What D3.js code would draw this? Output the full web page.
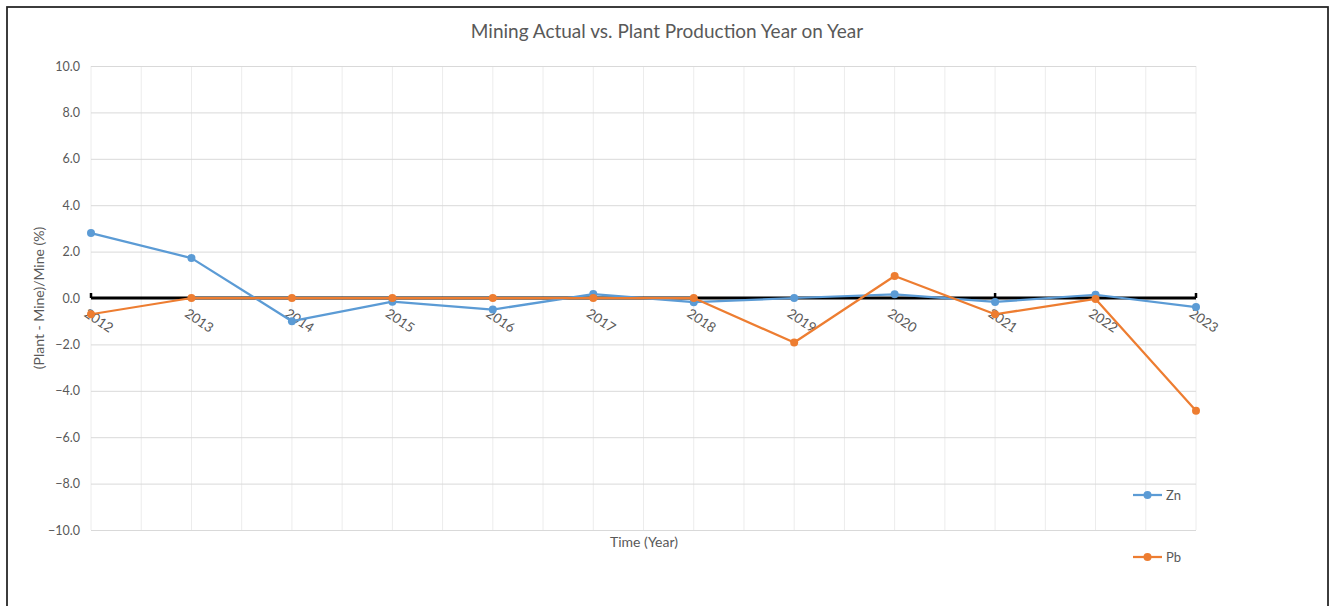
<!DOCTYPE html>
<html>
<head>
<meta charset="utf-8">
<script src="https://cdn.jsdelivr.net/npm/d3@7"></script>
<style>
  body { margin: 0; background: #fff; }
  text { font-family: Lato, "Open Sans", sans-serif; fill: #595959; }
</style>
</head>
<body>
<div id="visContainer"></div>
<script>
// data
const years = [2012, 2013, 2014, 2015, 2016, 2017, 2018, 2019, 2020, 2021, 2022, 2023];
const zn = [2.8, 1.72, -1.0, -0.16, -0.5, 0.17, -0.18, 0.0, 0.16, -0.17, 0.14, -0.39];
const pb = [-0.7, 0.0, 0.0, 0.0, 0.0, 0.0, 0.0, -1.92, 0.95, -0.7, -0.04, -4.86];
const yTicks = [10, 8, 6, 4, 2, 0, -2, -4, -6, -8, -10];
const axisTickYears = [2012, 2021, 2023];

function makeVis() {
  const width = 1334;
  const height = 606;
  const margins = { left: 91, right: 138, top: 66, bottom: 76 };

  const svg = d3.create("svg")
    .attr("width", width)
    .attr("height", height);
  document.querySelector("#visContainer").append(svg.node());

  // outer frame
  svg.append("rect")
    .attr("x", 7).attr("y", 7)
    .attr("width", 1321).attr("height", 640)
    .attr("fill", "none")
    .attr("stroke", "#222")
    .attr("stroke-width", 1.75);

  const xScale = d3.scaleLinear()
    .domain(d3.extent(years))
    .range([margins.left, width - margins.right]);
  const yScale = d3.scaleLinear()
    .domain([-10, 10])
    .range([height - margins.bottom, margins.top]);

  // vertical gridlines every half year
  const halfYears = d3.range(years[0], years[years.length - 1] + 0.01, 0.5);
  svg.append("g").selectAll("line")
    .data(halfYears)
    .join("line")
    .attr("x1", d => xScale(d)).attr("x2", d => xScale(d))
    .attr("y1", yScale(10)).attr("y2", yScale(-10))
    .attr("stroke", "#ececec")
    .attr("stroke-width", 1);

  // horizontal gridlines + y labels
  const yAxis = d3.axisLeft(yScale)
    .tickValues(yTicks)
    .tickSize(-(xScale.range()[1] - xScale.range()[0]))
    .tickPadding(11)
    .tickFormat(d3.format(".1f"));
  const gy = svg.append("g")
    .attr("transform", `translate(${margins.left},0)`)
    .call(yAxis);
  gy.select(".domain").remove();
  gy.selectAll(".tick line").attr("stroke", "#d9d9d9").attr("stroke-width", 1);
  gy.selectAll(".tick text")
    .attr("font-size", 12.5)
    .style("font-family", "Lato, sans-serif")
    .attr("fill", "#595959");

  // zero axis line
  const zeroY = yScale(0);
  svg.append("line")
    .attr("x1", xScale(years[0])).attr("x2", xScale(years[years.length - 1]))
    .attr("y1", zeroY).attr("y2", zeroY)
    .attr("stroke", "#000")
    .attr("stroke-width", 3);
  svg.append("g").selectAll("line")
    .data(axisTickYears)
    .join("line")
    .attr("x1", d => xScale(d)).attr("x2", d => xScale(d))
    .attr("y1", zeroY).attr("y2", zeroY - 5)
    .attr("stroke", "#000")
    .attr("stroke-width", 2.5);

  // year labels rotated
  svg.append("g").selectAll("text")
    .data(years)
    .join("text")
    .attr("transform", d => `translate(${xScale(d) - 2},${zeroY + 9}) rotate(34)`)
    .attr("font-size", 13.5)
    .attr("dominant-baseline", "hanging")
    .text(d => d);

  const series = [
    { name: "Zn", values: zn, color: "#5B9BD5" },
    { name: "Pb", values: pb, color: "#ED7D31" }
  ];

  const line = d3.line()
    .x((d, i) => xScale(years[i]))
    .y(d => yScale(d));

  series.forEach(s => {
    svg.append("path")
      .datum(s.values)
      .attr("d", line)
      .attr("fill", "none")
      .attr("stroke", s.color)
      .attr("stroke-width", 2.25)
      .attr("stroke-linejoin", "round");
    svg.append("g").selectAll("circle")
      .data(s.values)
      .join("circle")
      .attr("cx", (d, i) => xScale(years[i]))
      .attr("cy", d => yScale(d))
      .attr("r", 4)
      .attr("fill", s.color);
  });

  // legend
  const legendY = [495, 557];
  series.forEach((s, i) => {
    const g = svg.append("g").attr("transform", `translate(1133,${legendY[i]})`);
    g.append("line").attr("x1", 0).attr("x2", 29).attr("y1", 0).attr("y2", 0)
      .attr("stroke", s.color).attr("stroke-width", 2.25);
    g.append("circle").attr("cx", 14.5).attr("cy", 0).attr("r", 4).attr("fill", s.color);
    g.append("text").attr("x", 33).attr("y", 0).attr("dy", "0.35em")
      .attr("font-size", 13).text(s.name);
  });

  // titles
  svg.append("text")
    .attr("x", 667).attr("y", 38)
    .attr("text-anchor", "middle")
    .attr("font-size", 19)
    .text("Mining Actual vs. Plant Production Year on Year");

  svg.append("text")
    .attr("x", 644).attr("y", 547)
    .attr("text-anchor", "middle")
    .attr("font-size", 14)
    .text("Time (Year)");

  svg.append("text")
    .attr("transform", `translate(44,298) rotate(-90)`)
    .attr("text-anchor", "middle")
    .attr("font-size", 14)
    .text("(Plant - Mine)/Mine (%)");
}

makeVis();
</script>
</body>
</html>
